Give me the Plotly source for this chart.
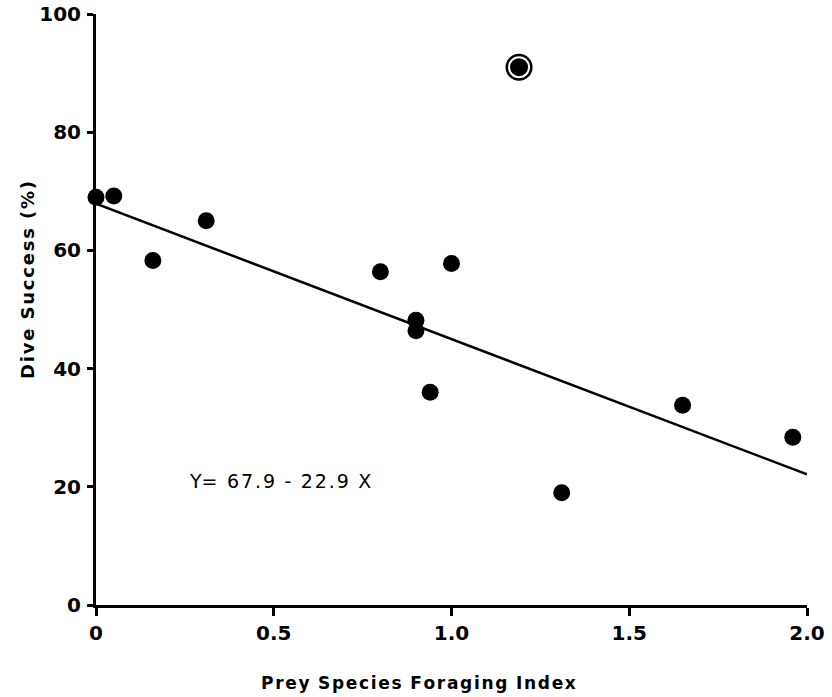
import plotly.graph_objects as go

# Data
foraging_index = [0.0, 0.05, 0.16, 0.31, 0.80, 0.90, 0.90, 0.94, 1.00, 1.31, 1.65, 1.96]
dive_success = [69.0, 69.2, 58.3, 65.0, 56.4, 48.2, 46.4, 36.0, 57.8, 19.0, 33.8, 28.4]
outlier_x = [1.19]
outlier_y = [91.0]
intercept = 67.9
slope = -22.9
line_x = [0.0, 2.0]
x_tickvals = [0, 0.5, 1.0, 1.5, 2.0]
x_ticktext = ["0", "0.5", "1.0", "1.5", "2.0"]
y_tickvals = [0, 20, 40, 60, 80, 100]
y_ticktext = ["0", "20", "40", "60", "80", "100"]

FONT = "DejaVu Sans"
HS = "\u200a"   # hair space used for letter spacing
WS = "\u2002"   # en space between words


def spaced(s):
    return WS.join(HS.join(list(w)) for w in s.split(" "))


fig = go.Figure()

fig.add_trace(go.Scatter(
    x=line_x, y=[intercept + slope * v for v in line_x],
    mode="lines", line=dict(color="black", width=2.5),
    hoverinfo="skip", showlegend=False, cliponaxis=False))

fig.add_trace(go.Scatter(
    x=foraging_index, y=dive_success, mode="markers",
    marker=dict(color="black", size=17, line=dict(width=0)),
    showlegend=False, cliponaxis=False))

for sz, col in [(27, "black"), (22, "white"), (18, "black")]:
    fig.add_trace(go.Scatter(
        x=outlier_x, y=outlier_y, mode="markers",
        marker=dict(color=col, size=sz, line=dict(width=0)),
        showlegend=False, cliponaxis=False))

axis_common = dict(
    showgrid=False, zeroline=False, showline=True, linecolor="black", linewidth=3,
    ticks="outside", tickcolor="black", tickwidth=3, automargin=False,
    ticklabeloverflow="allow",
    tickfont=dict(family=FONT, size=20, color="black", weight="bold"),
)

fig.update_xaxes(range=[0, 2.0], tickvals=x_tickvals, ticktext=x_ticktext,
                 ticklen=8, ticklabelstandoff=0, **axis_common)
fig.update_yaxes(range=[0, 100], tickvals=y_tickvals, ticktext=y_ticktext,
                 ticklen=6, ticklabelstandoff=2, **axis_common)

fig.add_annotation(text=spaced("Prey Species Foraging Index"),
                   xref="paper", yref="paper", x=0.453, y=-0.132, yanchor="middle",
                   showarrow=False,
                   font=dict(family=FONT, size=17, color="black", weight="bold"))
fig.add_annotation(text=spaced("Dive Success (%)"),
                   xref="paper", yref="paper", x=-0.0956, y=0.55, xanchor="center",
                   yanchor="middle", textangle=-90, showarrow=False,
                   font=dict(family=FONT, size=18, color="black", weight="bold"))
fig.add_annotation(text="Y=" + WS + spaced("67.9") + WS + "-" + WS + spaced("22.9") + WS + "X",
                   xref="x", yref="y", x=0.256, y=21.0, xanchor="left",
                   yanchor="middle", showarrow=False,
                   font=dict(family=FONT, size=19, color="black"))

fig.update_layout(
    width=832, height=697,
    margin=dict(l=96, r=25, t=14, b=92, autoexpand=False),
    plot_bgcolor="white", paper_bgcolor="white",
    showlegend=False,
)

fig.write_html("out.html",
               config={"displayModeBar": False},
               post_script="document.body.style.margin='0';document.body.style.overflow='hidden';")
